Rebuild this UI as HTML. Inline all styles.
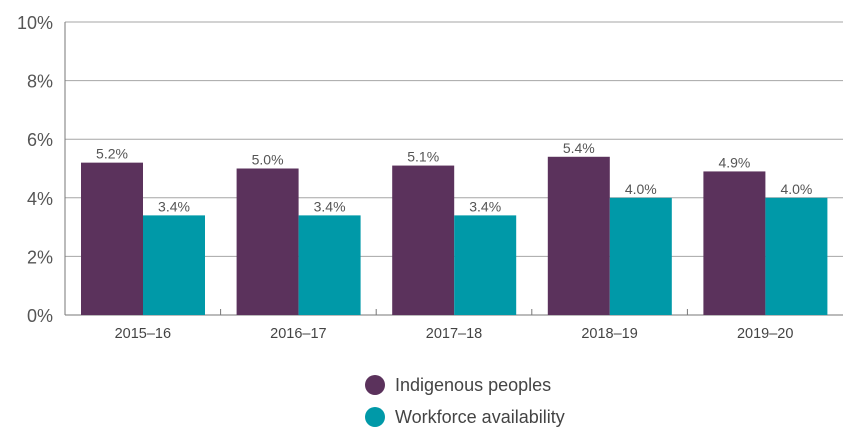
<!DOCTYPE html>
<html><head><meta charset="utf-8"><style>
body{margin:0;background:#fff;}
svg{display:block;font-family:"Liberation Sans",sans-serif;}
</style></head><body>
<svg id="chart" width="867" height="448"></svg>
<script>
const categories=["2015–16","2016–17","2017–18","2018–19","2019–20"];
const indigenous=[5.2,5.0,5.1,5.4,4.9];
const workforce=[3.4,3.4,3.4,4.0,4.0];
const yTicks=[0,2,4,6,8,10];
const NS="http://www.w3.org/2000/svg";
const svg=document.getElementById("chart");
const L=65,R=843,T=22,B=315;
const bw=(R-L)/categories.length;
const y=v=>B-(v/10)*(B-T);
const x=i=>L+i*bw;
function mk(tag,attrs,txt){const e=document.createElementNS(NS,tag);for(const k in attrs)e.setAttribute(k,attrs[k]);if(txt!==undefined)e.textContent=txt;svg.appendChild(e);return e;}
yTicks.forEach(t=>{
  const g=mk("line",{x1:L,x2:R,y1:y(t),y2:y(t),stroke:t===0?"#777":"#a6a6a6","stroke-width":1});
  
  
  const lb=mk("text",{x:53,y:y(t)+7,"text-anchor":"end","font-size":18,fill:"#555"},t+"%");
  
  
});
const ax=mk("line",{x1:L,x2:L,y1:T,y2:B,stroke:"#777"});


categories.forEach((c,i)=>{
  if(i>0){const tk=mk("line",{x1:x(i),x2:x(i),y1:B,y2:B-6,stroke:"#777"});
  
  }
  const bx=x(i)+16, w=62;
  [[indigenous[i],"#5b325c",bx,"bar-indigenous"],[workforce[i],"#0099a8",bx+w,"bar-workforce"]].forEach(([v,col,xx,nm])=>{
    const r=mk("rect",{x:xx,y:y(v),width:w,height:B-y(v),fill:col});
    
    
    const t=mk("text",{x:xx+w/2,y:y(v)-4,"text-anchor":"middle","font-size":14,fill:"#555"},v.toFixed(1)+"%");
    
    
  });
  const xl=mk("text",{x:x(i)+bw/2,y:B+23,"text-anchor":"middle","font-size":14.5,fill:"#444"},c);
  
  
});
[["Indigenous peoples","#5b325c",385],["Workforce availability","#0099a8",417]].forEach(([n,col,yy])=>{
  const c=mk("circle",{cx:375,cy:yy,r:10,fill:col});
  
  
  const t=mk("text",{x:395,y:yy+6,"font-size":18,fill:"#444"},n);
  
  
});
</script>
</body></html>
